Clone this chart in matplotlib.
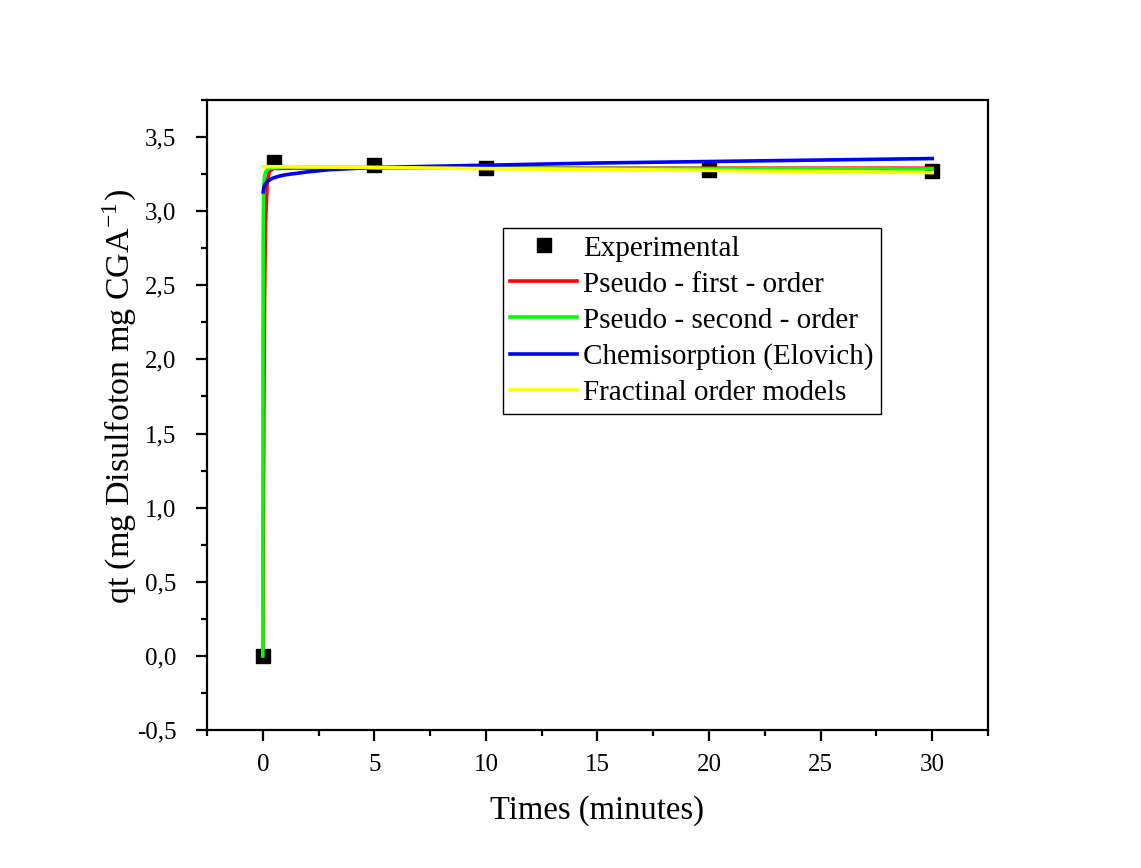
import matplotlib.pyplot as plt
import numpy as np
from matplotlib.ticker import MultipleLocator, FuncFormatter

plt.rcParams["font.family"] = ["Liberation Serif", "DejaVu Serif"]
plt.rcParams["mathtext.fontset"] = "stix"

# experimental points
t_exp = [0, 0.5, 5, 10, 20, 30]
q_exp = [0, 3.33, 3.31, 3.29, 3.28, 3.27]

# model curves
t_pfo = [0, 0.02, 0.05, 0.08, 0.12, 0.2, 0.3, 0.5, 1, 5, 10, 20, 30]
q_pfo = [0, 0.75, 1.65, 2.4, 2.9, 3.2, 3.27, 3.29, 3.29, 3.29, 3.29, 3.29, 3.29]

t_pso = [0, 0.01, 0.02, 0.04, 0.08, 0.15, 0.3, 1, 5, 10, 20, 30]
q_pso = [0, 2.0, 2.9, 3.15, 3.24, 3.27, 3.29, 3.30, 3.295, 3.29, 3.287, 3.285]

t_elo = [0.02, 0.05, 0.1, 0.2, 0.4, 0.7, 1, 2, 3, 5, 10, 15, 20, 25, 30]
q_elo = [3.13, 3.16, 3.18, 3.20, 3.22, 3.235, 3.245, 3.265, 3.28, 3.295, 3.31, 3.325, 3.335, 3.345, 3.355]

t_frac = [0.01, 0.5, 5, 10, 20, 30]
q_frac = [3.30, 3.30, 3.295, 3.287, 3.275, 3.26]


def comma(v, pos):
    return f"{v:.1f}".replace(".", ",")


def main():
    fig = plt.figure(figsize=(11.41, 8.68), dpi=100)
    ax = fig.add_axes([0.1814, 0.159, 0.6845, 0.7258])

    ax.plot(t_exp, q_exp, "s", color="black", markersize=10, label="Experimental", zorder=2)
    ax.plot(t_pfo, q_pfo, color="#ff0000", lw=2.6, label="Pseudo - first - order", zorder=3)
    ax.plot(t_pso, q_pso, color="#00ff00", lw=2.6, label="Pseudo - second - order", zorder=3)
    ax.plot(t_elo, q_elo, color="#0000ff", lw=2.6, label="Chemisorption (Elovich)", zorder=3)
    ax.plot(t_frac, q_frac, color="#ffff00", lw=2.6, label="Fractinal order models", zorder=3)

    ax.set_xlim(-2.5, 32.5)
    ax.set_ylim(-0.5, 3.75)
    ax.xaxis.set_major_locator(MultipleLocator(5))
    ax.xaxis.set_minor_locator(MultipleLocator(2.5))
    ax.yaxis.set_major_locator(MultipleLocator(0.5))
    ax.yaxis.set_minor_locator(MultipleLocator(0.25))
    ax.yaxis.set_major_formatter(FuncFormatter(comma))

    for s in ax.spines.values():
        s.set_linewidth(1.6)
    ax.tick_params(which="both", direction="out", top=False, right=False, width=1.6)
    ax.tick_params(which="major", length=8, labelsize=18)
    ax.tick_params(axis="y", which="major", pad=14)
    ax.tick_params(axis="x", which="major", pad=9)
    ax.tick_params(which="minor", length=4)

    ax.set_xlabel("Times (minutes)", fontsize=23.5, labelpad=14)
    ax.set_ylabel(r"qt (mg Disulfoton mg CGA$^{\mathregular{-1}}$)", fontsize=24.5)
    ax.yaxis.set_label_coords(-0.088, 0.53)

    leg = ax.legend(loc="upper left", bbox_to_anchor=(0.379, 0.797), fontsize=21,
                    frameon=True, fancybox=False, edgecolor="black", framealpha=1,
                    borderpad=0.25, labelspacing=0.33, handlelength=2.3,
                    handletextpad=0.2, borderaxespad=0)
    leg.get_frame().set_linewidth(1.0)

    fig.savefig("out.png", dpi=100)


if __name__ == "__main__":
    main()
